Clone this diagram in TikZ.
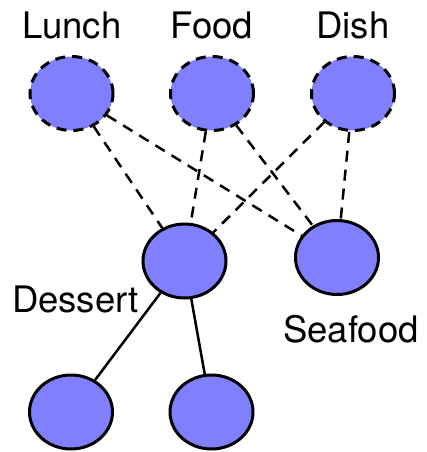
\documentclass[tikz,border=0pt]{standalone}
\usepackage{fontspec}
\setmainfont{TeX Gyre Heros}
\usetikzlibrary{shapes.geometric}
\begin{document}
\begin{tikzpicture}[x=1pt,y=-1pt,
  vert/.style={ellipse,draw=black,fill={rgb,255:red,128;green,128;blue,255},line width=3pt,minimum width=83pt,minimum height=74pt,inner sep=0pt},
  hidden/.style={vert,dash pattern=on 10pt off 7pt},
  lbl/.style={anchor=base,font=\fontsize{36.5}{40}\selectfont,inner sep=0pt},
  dline/.style={line width=2.5pt,dash pattern=on 11pt off 8pt},
  sline/.style={line width=2.5pt}]
\useasboundingbox (0,0) rectangle (426,452);
\node[hidden] (lunch) at (71.5,93.5) {};
\node[hidden] (food) at (212,93.5) {};
\node[hidden] (dish) at (353,93.5) {};
\node[vert] (dessert) at (184.5,261) {};
\node[vert] (seafood) at (337,257.5) {};
\node[vert] (b1) at (71,412) {};
\node[vert] (b2) at (211.5,412) {};
\node[lbl] (tl) at (71.7,38) {Lunch};
\node[lbl] (tf) at (211.7,38) {Food};
\node[lbl] (td) at (353,38) {Dish};
\node[lbl] (tde) at (75.5,312) {Dessert};
\node[lbl] (tse) at (351,342) {Seafood};
\draw[dline] (lunch) -- (dessert);
\draw[dline] (lunch) -- (seafood);
\draw[dline] (food) -- (dessert);
\draw[dline] (food) -- (seafood);
\draw[dline] (dish) -- (dessert);
\draw[dline] (dish) -- (seafood);
\draw[sline] (dessert) -- (b1);
\draw[sline] (dessert) -- (b2);
\end{tikzpicture}
\end{document}
